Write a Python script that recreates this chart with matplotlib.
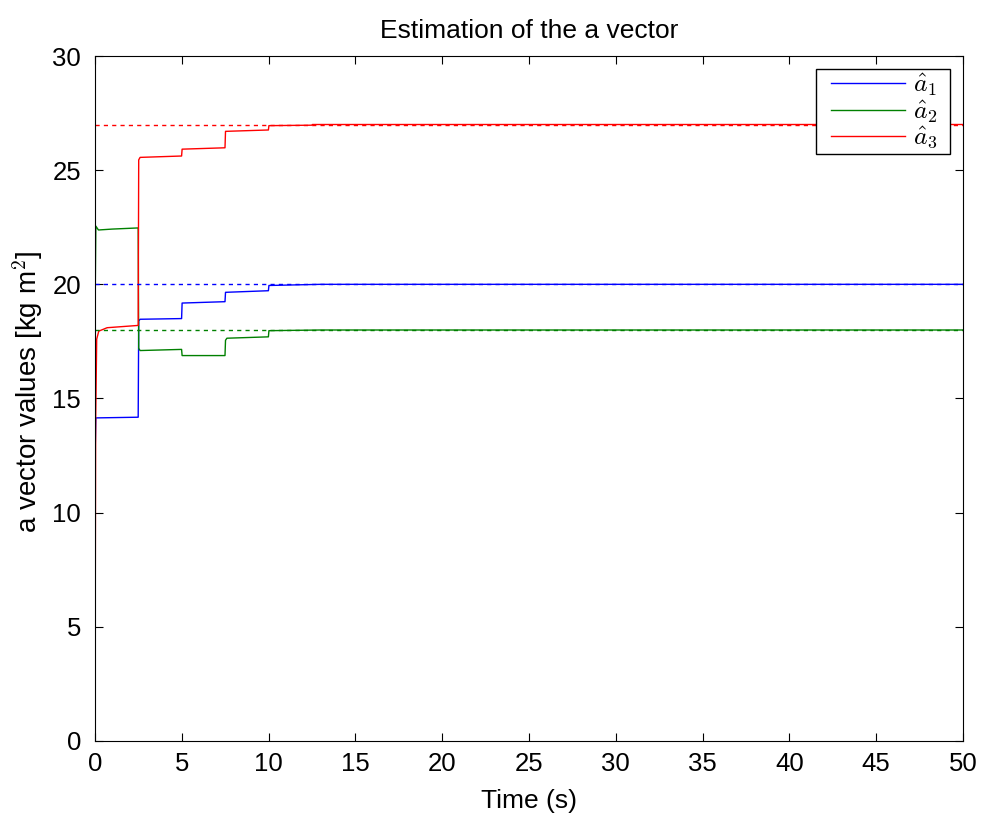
import matplotlib
matplotlib.use("Agg")
import matplotlib.pyplot as plt
from matplotlib.legend_handler import HandlerLine2D

plt.rcParams['font.family'] = ['Liberation Sans', 'DejaVu Sans']
plt.rcParams['mathtext.fontset'] = 'cm'

# Estimated a vector components (time [s], value)
t1 = [0, 0.02, 0.05, 2.49, 2.52, 2.6, 4.99, 5.02, 7.49, 7.52, 9.99, 10.02, 13, 50]
a1 = [0, 13.0, 14.15, 14.18, 18.4, 18.47, 18.5, 19.18, 19.24, 19.65, 19.72, 19.95, 20.0, 20.0]

t2 = [0, 0.02, 0.05, 0.2, 1.0, 2.49, 2.52, 2.6, 4.99, 5.02, 7.49, 7.52, 7.6, 9.99, 10.02, 13, 50]
a2 = [0, 20.0, 22.55, 22.38, 22.42, 22.47, 17.2, 17.1, 17.15, 16.88, 16.88, 17.55, 17.64, 17.7, 17.97, 18.0, 18.0]

t3 = [0, 0.04, 0.1, 0.22, 0.7, 2.49, 2.52, 2.6, 4.99, 5.02, 7.49, 7.52, 9.99, 10.02, 12.49, 12.52, 50]
a3 = [0, 14.0, 17.6, 17.95, 18.1, 18.2, 25.45, 25.56, 25.62, 25.92, 25.98, 26.7, 26.76, 26.95, 26.97, 27.0, 27.0]

# True values
true_vals = [20, 18, 27]
labels = [r'$\hat{a}_1$', r'$\hat{a}_2$', r'$\hat{a}_3$']
colors = ['#0000ff', '#008000', '#ff0000']


class InsetHandler(HandlerLine2D):
    """Legend line that starts a little inside its handle box (MATLAB look)."""
    def __init__(self, inset, **kw):
        super().__init__(**kw)
        self.inset = inset

    def get_xdata(self, legend, xdescent, ydescent, width, height, fontsize):
        xd, xm = super().get_xdata(legend, xdescent, ydescent, width, height, fontsize)
        return [xd[0] + self.inset, xd[-1]], xm


fig = plt.figure(figsize=(9.84, 8.14), dpi=100)
ax = fig.add_axes([0.0965, 0.0897, 0.8822, 0.8415])

lines = []
for t, a, c, lab in zip([t1, t2, t3], [a1, a2, a3], colors, labels):
    ln, = ax.plot(t, a, color=c, lw=1.0, label=lab + '  ')
    lines.append(ln)
for v, c in zip(true_vals, colors):
    ax.plot([0, 50], [v, v], color=c, lw=1.0, ls=(0, (3, 3)))

ax.set_xlim(0, 50)
ax.set_ylim(0, 30)
ax.set_xticks(range(0, 51, 5))
ax.set_yticks(range(0, 31, 5))
ax.tick_params(direction='in', top=True, right=True, labelsize=18.5, length=6, width=0.8)
ax.tick_params(axis='x', pad=8)
ax.tick_params(axis='y', pad=10)
for s in ax.spines.values():
    s.set_linewidth(0.8)

ax.set_title('Estimation of the a vector', fontsize=19, pad=13)
ax.set_xlabel('Time (s)', fontsize=19, labelpad=9)
ax.set_ylabel('a vector values [kg m$^2$]', fontsize=20)
ax.yaxis.set_label_coords(-0.057, 0.51)

leg = ax.legend(handles=lines, loc='upper right', fontsize=18.5, fancybox=False,
                edgecolor='black', framealpha=1, handlelength=3.35,
                borderaxespad=0.5, labelspacing=0.0, handletextpad=0.31,
                borderpad=0.11,
                handler_map={l: InsetHandler(8.6) for l in lines})
leg.get_frame().set_linewidth(1.0)

fig.savefig('out.png', dpi=100)
